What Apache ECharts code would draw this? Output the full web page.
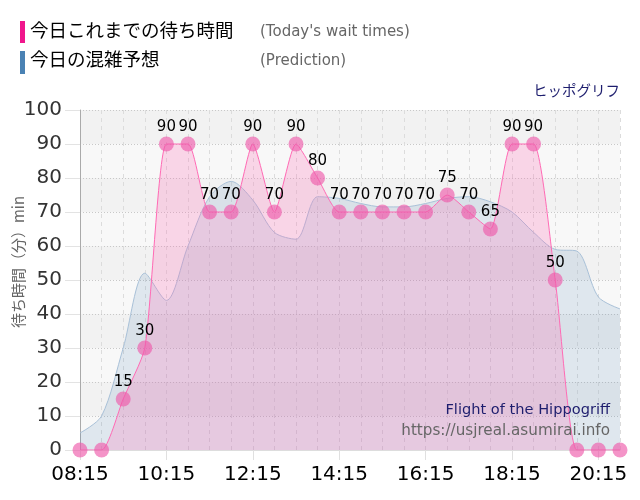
<!DOCTYPE html>
<html><head><meta charset="utf-8">
<script src="https://cdn.jsdelivr.net/npm/echarts@6/dist/echarts.min.js"></script>
<style>html,body{margin:0;padding:0;background:#fff}#c{width:640px;height:500px}</style>
</head><body><div id="c"></div>
<script>
const times = ['08:15','08:45','09:15','09:45','10:15','10:45','11:15','11:45','12:15','12:45','13:15','13:45','14:15','14:45','15:15','15:45','16:15','16:45','17:15','17:45','18:15','18:45','19:15','19:45','20:15','20:45'];
const waitTimes = [0,0,15,30,90,90,70,70,90,70,90,80,70,70,70,70,70,75,70,65,90,90,50,0,0,0];
const prediction = [5,10,30,52,44,60,74.5,79,73.5,64,62,74.5,74,72.5,71.5,71.5,72.5,74,74.5,73,70,64,59,58.5,45,41.5];
const yTicks = [0,10,20,30,40,50,60,70,80,90,100];
const legendJa = ['今日これまでの待ち時間','今日の混雑予想'];
const legendEn = ["(Today's wait times)",'(Prediction)'];
const attraction = 'ヒッポグリフ';
const attractionEn = 'Flight of the Hippogriff';
const siteUrl = 'https://usjreal.asumirai.info';
const yName = '待ち時間（分）min';

const FONT = '"DejaVu Sans", "Noto Sans CJK JP", sans-serif';
const JFONT = '"Noto Sans CJK JP", sans-serif';
const chart = echarts.init(document.getElementById('c'), null, {renderer:'canvas'});
chart.setOption({
  animation:false,
  textStyle:{fontFamily:FONT},
  grid:{left:80,right:20,top:110,bottom:50,outerBoundsMode:'none',containLabel:false},
  xAxis:{
    type:'category', data:times, boundaryGap:false,
    axisLine:{show:true,lineStyle:{color:'#ddd'}},
    axisTick:{show:true,interval:3,length:10,lineStyle:{color:'#e0e0e0'}},
    axisLabel:{interval:3,color:'#000',fontSize:20,margin:15,fontFamily:FONT},
    splitLine:{show:true,interval:0,lineStyle:{color:'#dcdcdc',type:[4,4]}}
  },
  yAxis:{
    type:'value', min:yTicks[0], max:yTicks[yTicks.length-1], interval:10,
    axisLine:{show:true,lineStyle:{color:'#aaa'}},
    axisTick:{show:true,length:15,lineStyle:{color:'#e3e3e3'}},
    axisLabel:{color:'#333',fontSize:20,margin:18,fontFamily:FONT},
    splitLine:{show:true,lineStyle:{color:'#c8c8c8',type:[1,2]}},
    splitArea:{show:true,areaStyle:{color:['#f8f8f8','#f2f2f2']}}
  },
  series:[
    {
      name:legendJa[1], type:'line', data:prediction, smooth:0.3,
      symbol:'none',
      lineStyle:{color:'#a9c1d8',width:1},
      areaStyle:{color:'rgba(70,130,180,0.2)'},
      z:2
    },
    {
      name:legendJa[0], type:'line', data:waitTimes, smooth:0.2,
      symbol:'circle', symbolSize:15, showSymbol:true, showAllSymbol:true,
      itemStyle:{color:'rgba(238,90,170,0.65)'},
      lineStyle:{color:'#ff6ab4',width:1},
      areaStyle:{color:'rgba(255,105,180,0.35)'},
      labelLayout:{hideOverlap:false},
      label:{show:true,position:'top',distance:2,color:'#000',fontSize:15,fontFamily:FONT,
        formatter:p=>p.value===0?'':String(p.value)},
      z:3
    }
  ],
  graphic:[
    {type:'text',z:100,x:18,y:262,rotation:Math.PI/2,
      style:{text:yName,font:'15px '+JFONT,fill:'#666',align:'center',verticalAlign:'middle'}},
    {type:'rect',z:100,left:20,top:21,shape:{width:5,height:22},style:{fill:'#f0168c'}},
    {type:'text',z:100,left:30,top:21,style:{text:legendJa[0],font:'18.5px '+JFONT,fill:'#000'}},
    {type:'text',z:100,left:260,top:25,style:{text:legendEn[0],font:'15px '+FONT,fill:'#666'}},
    {type:'rect',z:100,left:20,top:51,shape:{width:5,height:23},style:{fill:'#4a82b4'}},
    {type:'text',z:100,left:30,top:50,style:{text:legendJa[1],font:'18.5px '+JFONT,fill:'#000'}},
    {type:'text',z:100,left:260,top:54,style:{text:legendEn[1],font:'15px '+FONT,fill:'#666'}},
    {type:'text',z:100,right:20,top:83,style:{text:attraction,font:'14.5px '+JFONT,fill:'#1e1e6e'}},
    {type:'text',z:100,right:30,top:403,style:{text:attractionEn,font:'14.6px '+FONT,fill:'#1e1e6e'}},
    {type:'text',z:100,right:30,top:423,style:{text:siteUrl,font:'15.2px '+FONT,fill:'#666'}}
  ]
});
</script></body></html>
